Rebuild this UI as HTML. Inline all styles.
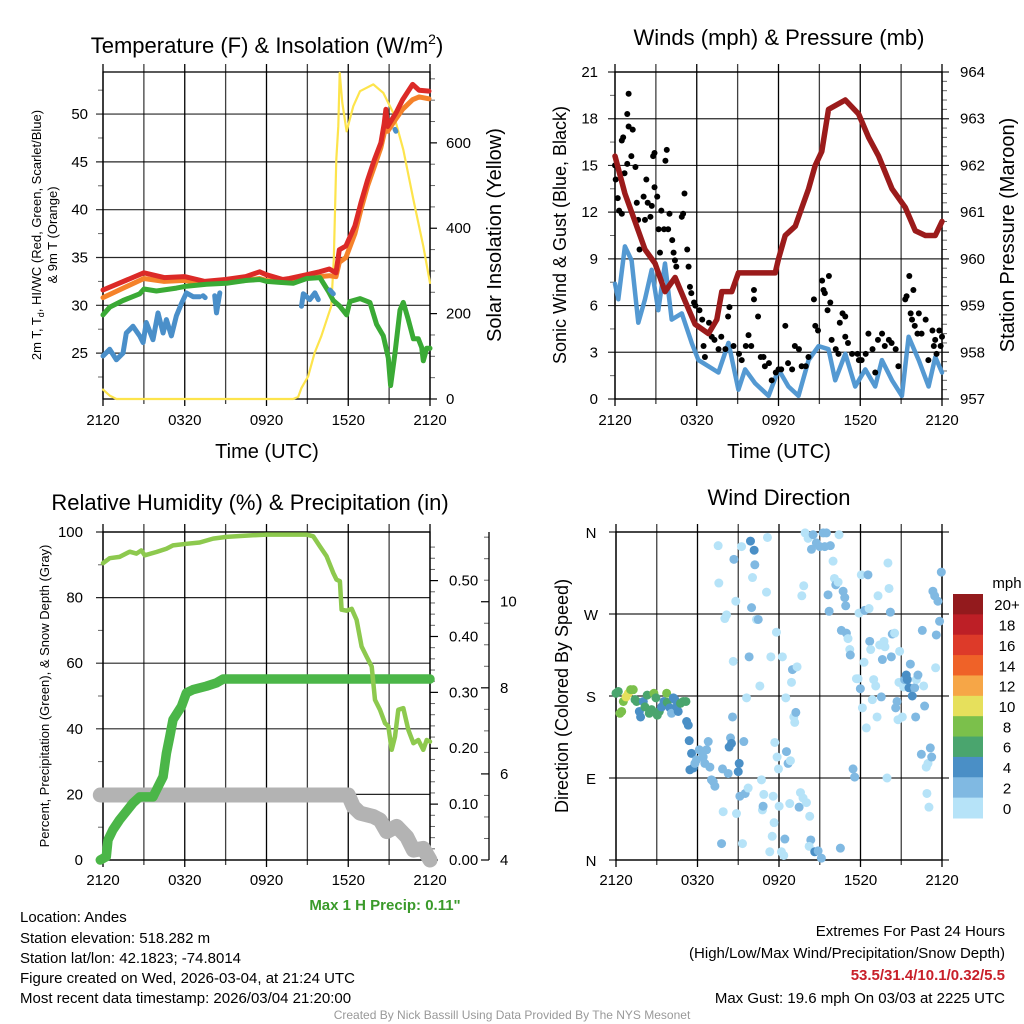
<!DOCTYPE html>
<html><head><meta charset="utf-8"><style>
body{margin:0;background:#fff;}
svg{display:block;font-family:"Liberation Sans",sans-serif;}
</style></head><body>
<svg id="s" width="1024" height="1024" viewBox="0 0 1024 1024" xmlns="http://www.w3.org/2000/svg">
<rect width="1024" height="1024" fill="#fff"/>
<text x="267" y="53" font-size="22" text-anchor="middle">Temperature (F) &amp; Insolation (W/m<tspan font-size="14" dy="-9">2</tspan><tspan dy="9">)</tspan></text>
<text x="779" y="45" font-size="22" text-anchor="middle">Winds (mph) &amp; Pressure (mb)</text>
<text x="250" y="510" font-size="22" text-anchor="middle">Relative Humidity (%) &amp; Precipitation (in)</text>
<text x="779" y="505" font-size="22" text-anchor="middle">Wind Direction</text>
<text x="267" y="458" font-size="20" text-anchor="middle">Time (UTC)</text>
<text x="779" y="458" font-size="20" text-anchor="middle">Time (UTC)</text>
<text transform="translate(41,235) rotate(-90)" font-size="13" text-anchor="middle">2m T, T<tspan font-size="9" dy="3">d</tspan><tspan dy="-3">, HI/WC (Red, Green, Scarlet/Blue)</tspan></text>
<text transform="translate(57,235) rotate(-90)" font-size="13" text-anchor="middle">&amp; 9m T (Orange)</text>
<text transform="translate(501,235) rotate(-90)" font-size="20" text-anchor="middle">Solar Insolation (Yellow)</text>
<text transform="translate(566,235) rotate(-90)" font-size="18" text-anchor="middle">Sonic Wind &amp; Gust (Blue, Black)</text>
<text transform="translate(1014,235) rotate(-90)" font-size="20" text-anchor="middle">Station Pressure (Maroon)</text>
<text transform="translate(49,696) rotate(-90)" font-size="13" text-anchor="middle">Percent, Precipitation (Green), &amp; Snow Depth (Gray)</text>
<text transform="translate(568,696) rotate(-90)" font-size="18" text-anchor="middle">Direction (Colored By Speed)</text>
<text x="385" y="910" font-size="15" font-weight="bold" fill="#3a9a2a" text-anchor="middle">Max 1 H Precip: 0.11"</text>
<g font-size="15">
<text x="20" y="922">Location: Andes</text>
<text x="20" y="943">Station elevation: 518.282 m</text>
<text x="20" y="963">Station lat/lon: 42.1823; -74.8014</text>
<text x="20" y="983">Figure created on Wed, 2026-03-04, at 21:24 UTC</text>
<text x="20" y="1003">Most recent data timestamp: 2026/03/04 21:20:00</text>
</g>
<g font-size="15" text-anchor="end">
<text x="1005" y="936">Extremes For Past 24 Hours</text>
<text x="1005" y="958">(High/Low/Max Wind/Precipitation/Snow Depth)</text>
<text x="1005" y="980" font-weight="bold" fill="#c8202a">53.5/31.4/10.1/0.32/5.5</text>
<text x="1005" y="1003">Max Gust: 19.6 mph On 03/03 at 2225 UTC</text>
</g>
<text x="512" y="1019" font-size="12" fill="#999" text-anchor="middle">Created By Nick Bassill Using Data Provided By The NYS Mesonet</text>
<g id="g"></g>
</svg>
<script>
// ---------- data ----------
const xTickLabels=["2120","0320","0920","1520","2120"];
const tempT=[0,3,4.49,5.98,7.47,8.99,10.48,11.49,11.98,13.2,13.69,14.96,15.89,16.61,17.1,17.34,17.83,18.49,18.93,19.42,19.91,20.4,20.64,20.76,20.89,21.5,21.99,22.72,23.2,23.93];
const tempRed=[31.6,33.4,32.9,33.0,32.5,32.7,33.0,33.5,33.2,32.7,32.8,33.2,33.5,33.8,33.4,35.8,36.2,38.3,40.7,43.1,45.2,47,49,50.5,48.7,50.1,51.5,53.1,52.5,52.4];
const tempOrange=[30.8,32.8,32.5,32.6,32.3,32.4,32.6,32.8,32.6,32.4,32.5,33.0,33.0,33.1,33.0,34.5,35.0,37.5,40.0,42.5,44.5,46.5,48.0,48.5,48.2,49.5,50.5,51.5,51.8,51.6];
const dewT=[0,0.49,1.47,2.69,3.01,3.92,5.39,6.12,7.59,9.06,10.53,11.51,12,12.98,13.96,14.94,15.92,16.53,16.9,17.39,17.88,18.12,18.86,19.59,20.08,20.57,20.94,21.11,21.43,21.8,22.04,22.41,22.78,23.14,23.39,23.51,23.76,24];
const dewV=[29.0,29.8,30.5,31.2,31.7,31.5,31.8,32.0,32.2,32.3,32.6,32.7,32.5,32.4,32.3,32.8,32.9,31.5,30.5,29.9,29.0,30.4,30.7,30.3,28.0,26.8,24.5,21.6,25,29.5,30.3,28.5,26.5,26.5,25.6,24.2,25.5,25.5];
const wcT=[0,0.49,0.98,1.47,1.71,2.2,2.69,2.94,3.18,3.67,4.04,4.41,4.65,5.02,5.39,5.76,6.12,6.61,7.1,null,7.35,7.5,null,8.2,8.33,8.57,null,14.57,14.7,15.18,15.55,15.8,null,16.65,16.9,null,21.43,21.5];
const wcV=[24.7,25.4,24.3,25.0,27.1,27.8,26.8,26.1,28.2,26.4,29.2,27.1,28.5,26.8,28.9,30.2,31.3,30.9,30.9,null,31.0,30.8,null,31.0,29.2,31.3,null,29.9,31.2,30.6,31.3,30.6,null,31.6,31.2,null,48.4,48.2];
const solT=[0,0.49,0.98,13.96,14.33,14.57,15.05,15.53,16.02,16.51,16.75,16.94,17.12,17.27,17.37,17.56,17.88,18.37,18.86,19.84,20.57,21.31,22.04,22.78,23.51,24];
const solV=[22,8,0,0,5,26,53,108,147,194,217,327,561,639,764,694,627,686,721,737,717,670,584,467,358,272];
const presT=[0,0.73,1.47,2.2,2.94,3.67,4.41,5.14,5.88,6.86,7.47,7.84,8.57,9.06,10.04,11.02,11.76,12,12.49,13.23,13.72,14.21,14.69,15.18,15.67,16.9,17.88,18.61,19.35,20.33,21.31,22.04,22.78,23.51,24];
const presV=[962.2,961.4,960.8,960.2,959.9,959.3,959.6,959.1,958.6,958.4,958.7,959.3,959.3,959.7,959.7,959.7,959.7,960.0,960.5,960.7,961.1,961.5,962.0,962.3,963.2,963.4,963.1,962.6,962.2,961.5,961.1,960.6,960.5,960.5,960.8];
const windT=[0,0.24,0.73,1.22,1.71,2.2,2.69,3.18,3.67,4.16,4.9,5.63,6.12,6.86,7.59,8.33,9.06,9.55,10.29,11.27,12,12.73,13.47,14.21,14.94,15.67,16.16,16.9,17.63,18.37,19.1,19.59,20.33,21.06,21.55,22.29,23.02,23.51,24];
const windV=[7.4,6.4,9.8,8.9,4.9,6.4,8.3,5.7,8.7,5.1,5.5,3.6,2.5,2.1,1.7,3.6,0.6,1.9,1.0,0.2,1.9,0.8,0.2,2.5,3.4,3.2,1.2,2.9,0.8,1.9,0.8,2.5,1.2,0.2,4.0,2.5,0.8,2.7,1.7];
const gustT=[0,0.05,0.2,0.3,0.5,0.5,0.6,0.7,0.9,1.0,1.0,1.3,1.2,0.9,1.5,1.6,1.7,1.8,2.1,2.2,2.3,2.4,2.6,2.7,2.8,2.9,2.9,3.1,3.2,3.3,3.4,3.6,3.7,3.8,3.9,4.0,4.2,4.3,4.4,4.5,4.9,5.0,5.1,5.3,5.4,5.5,5.6,5.8,5.9,6.2,6.4,6.5,6.6,6.9,7.1,7.3,7.6,7.8,8.1,8.3,8.4,8.7,9.1,9.3,9.6,9.8,10.0,10.2,10.2,10.5,10.7,10.9,11.0,11.3,11.5,11.8,12.0,12.2,12.5,12.7,13.0,13.2,13.5,13.7,14.0,14.2,14.6,14.7,14.9,15.2,15.3,15.4,15.6,15.7,15.8,15.9,16.2,16.4,16.5,16.7,16.9,16.9,17.1,17.4,17.8,17.9,18.1,18.4,18.6,18.9,19.1,19.3,19.6,19.8,20.1,20.3,20.6,20.8,21.3,21.4,21.6,21.7,21.8,21.9,22.0,22.2,22.3,22.5,22.8,23.0,23.3,23.4,23.5,23.6,23.8,23.9,24.0];
const gustV=[15.0,14.1,12.9,12.1,11.9,16.6,16.8,14.5,18.3,19.6,17.5,17.3,15.6,15.1,14.9,12.6,11.5,9.6,13.0,11.5,14.1,12.6,11.7,12.4,15.6,15.8,13.6,13.0,10.9,9.4,12.1,10.9,15.3,16.0,10.9,11.9,10.2,9.4,8.9,8.5,11.7,11.9,13.2,9.6,8.5,7.2,6.8,6.2,6.0,5.7,5.1,3.4,2.7,4.9,4.0,3.8,3.2,4.0,3.2,5.3,5.9,3.4,2.9,2.5,3.4,4.1,3.4,7.0,6.4,5.3,2.7,2.7,2.1,2.3,1.2,1.7,1.9,1.9,4.7,2.3,1.9,3.4,3.2,2.1,2.1,2.7,6.4,4.7,4.4,7.6,7.0,6.8,5.7,7.9,6.2,3.8,3.2,2.9,4.9,5.5,5.3,4.0,3.6,2.9,2.9,2.5,2.5,2.9,4.2,3.2,1.7,3.8,4.2,3.4,3.8,3.6,3.2,2.1,6.4,6.6,7.9,5.5,5.1,7.0,4.7,4.2,5.5,4.2,5.1,2.5,4.4,3.4,3.8,2.9,4.4,3.4,4.0];
const rhT=[0,0.49,1.22,1.96,2.45,2.82,3.06,3.92,4.65,5.14,6.12,7.1,8.08,9.06,10.53,12,13.47,14.94,15.43,15.92,16.41,16.9,17.14,17.39,17.51,17.88,18.25,18.61,18.98,19.35,19.72,19.96,20.33,20.7,20.94,21.19,21.43,21.67,22.04,22.41,22.78,23.14,23.51,23.76,24];
const rhV=[90.5,92,92.4,94,93.4,94.4,92.9,93.9,94.9,95.9,96.4,96.8,98,98.5,98.9,99.2,99.2,99.2,98.7,95.6,92.6,87.5,85.5,85,76.3,76,76.6,73.2,65.1,62,59,48.8,45.8,41.7,40.8,33.6,37.6,45.8,46.3,39.7,35.6,36.6,33.6,36.6,36.1];
const precipT=[-0.2,0.24,0.37,0.73,1.22,1.71,2.2,2.69,3.67,4.04,4.41,4.65,4.9,5.14,5.76,6.12,6.61,7.59,8.33,8.82,24];
const precipV=[0,0.006,0.036,0.054,0.072,0.087,0.102,0.113,0.113,0.131,0.149,0.191,0.221,0.251,0.275,0.299,0.305,0.311,0.317,0.324,0.324];
const snowT=[-0.2,18,18.37,18.86,19.84,20.33,20.82,21.55,22.29,22.78,23.51,24];
const snowV=[5.51,5.51,5.24,5.09,5.01,4.93,4.66,4.78,4.54,4.23,4.27,4.0];
const dirT=[0,0.17,0.29,0.42,0.54,0.74,0.91,1.08,1.27,1.4,1.52,1.72,1.81,2.01,2.13,2.3,2.45,2.62,2.79,2.94,3.04,3.19,3.36,3.53,3.73,3.77,3.97,4.09,4.22,4.34,4.46,4.58,4.75,4.95,5.15,
5.2,5.32,5.39,5.56,5.69,5.44,5.81,5.93,6.13,6.3,6.42,6.54,6.67,6.79,6.91,7.03,7.16,7.28,7.52,7.57,7.77,7.89,7.84,8.01,8.14,8.26,8.33,8.43,8.5,8.63,8.68,8.58,8.82,8.87,9.0,9.07,9.12,9.24,9.31,9.41,9.51,9.61,9.73,9.8,9.9,10.05,9.98,10.17,10.22,10.34,10.47,10.59,10.71,10.78,10.83,10.88,11.08,11.15,11.32,11.4,11.5,11.57,11.64,11.69,11.81,11.86,11.96,12.01,12.18,12.25,12.35,12.43,12.5,12.55,12.67,12.79,12.84,12.92,12.99,13.09,13.16,13.24,13.33,13.48,13.58,13.68,13.77,13.82,13.92,14.02,14.14,14.26,14.34,14.22,14.39,14.51,14.63,14.75,14.88,15.0,15.12,15.25,15.37,15.49,15.61,15.69,15.78,15.98,16.08,16.18,16.35,16.42,16.52,16.59,16.72,16.84,16.91,16.96,17.08,17.21,17.25,17.45,17.57,17.7,17.82,17.89,17.99,18.06,18.14,18.26,18.31,18.43,18.55,18.63,18.68,18.75,18.87,18.97,19.12,19.22,19.29,19.41,19.53,19.61,19.73,19.8,19.95,20.02,20.1,20.2,20.27,20.34,20.51,20.59,20.69,20.76,20.83,20.88,21.08,21.18,21.25,21.37,21.45,21.57,21.67,21.81,21.99,22.11,22.23,22.06,22.55,22.65,22.72,22.48,22.84,22.97,22.89,23.04,23.14,23.24,23.33,23.46,23.53,23.58,23.7,23.82,23.95];
const dirDeg=[183,185,161,163,174,179,183,187,187,176,174,163,157,174,168,181,161,165,183,178,159,163,168,174,183,173,167,161,178,176,168,163,172,174,174,
152,148,131,117,101,99,106,110,121,119,113,106,121,130,102,88,86,81,345,304,18,53,100,265,269,95,124,134,128,218,330,157,284,51,97,106,70,344,18,130,73,178,79,223,350,310,277,340,324,264,264,191,88,55,59,72,294,354,9,223,26,70,41,129,250,113,100,59,9,223,5,23,178,119,106,62,109,195,209,157,151,162,212,58,74,290,68,301,359,63,353,48,22,15,341,357,9,348,10,344,2,359,344,359,291,273,345,328,309,302,305,357,13,252,295,288,279,249,243,231,225,100,91,199,199,271,188,313,167,217,274,145,313,276,240,231,176,198,191,157,290,236,179,220,240,234,90,326,298,272,223,248,249,167,174,154,195,229,157,190,198,203,198,189,215,180,189,198,203,157,252,191,169,116,102,106,73,58,123,113,295,290,211,247,284,262,316];
const dirSpd=[6,7,8,9,8,10,11,9,8,6,6,4.5,4.5,4.5,6,7,6,6,8,7,6,7,5,4.5,8,7,4.5,3.2,4.5,4.5,4.5,4.5,6,6,6,
4.5,4.5,4.5,4.5,4.5,4.5,3.2,3.2,2.8,2.8,2.8,2.8,3.2,3.2,2.8,2.8,2.8,2.8,1,1,2.8,1,3.2,1,1,2.8,4.5,3.2,4.5,1,3.2,3.2,1,1,4.5,4.5,3.2,1,1,3.2,2.8,1,1,3.2,4.5,1,3.2,4.5,3.2,1,3.2,1,1,1,3.2,1,1,1,1,1,1,1,1,1,1,1,1,1,1,1,1,2.8,1,3.2,3.2,1,1,1,3.2,1,1,3.2,1,3.2,1,1,1,1,1,1,1,1,2.8,1,3.2,3.2,4.5,3.2,3.2,3.2,3.2,3.2,3.2,3.2,3.2,3.2,3.2,1,1,3.2,1,1,2.8,3.2,3.2,3.2,3.2,3.2,1,1,3.2,3.2,3.2,1,1,1,3.2,1,1,1,3.2,1,3.2,1,3.2,1,1,1,1,1,1,1,3.2,3.2,1,1,1,1,1,3.2,3.2,3.2,1,3.2,3.2,1,1,1,1,1,2.8,4.5,4.5,4.5,3.2,4.5,3.2,1,3.2,3.2,3.2,1,3.2,3.2,1,1,1,1,3.2,3.2,3.2,3.2,1,3.2,3.2,3.2,3.2];
const cbLabels=["20+","18","16","14","12","10","8","6","4","2","0"];
const cbColors=["#931a1d","#bd1f26","#dd3a29","#ef6228","#f6a647","#e6e05c","#7bc04b","#4aa56e","#4a8fc6","#80b9e2","#b6e3f8"];

// ---------- helpers ----------
const NS="http://www.w3.org/2000/svg";
const G=document.getElementById('g');
function mk(tag,at,parent){const e=document.createElementNS(NS,tag);for(const k in at)e.setAttribute(k,at[k]);(parent||G).appendChild(e);return e;}
function lin(d0,d1,r0,r1){return v=>r0+(v-d0)/(d1-d0)*(r1-r0);}
function path(xs,ys,sx,sy){let d="",pen=false;for(let i=0;i<xs.length;i++){if(xs[i]===null||ys[i]===null){pen=false;continue;}d+=(pen?"L":"M")+sx(xs[i]).toFixed(1)+","+sy(ys[i]).toFixed(1);pen=true;}return d;}

function frame(x0,x1,y0,y1,name,hy,xlabY,extendTop){
  const sx=lin(0,24,x0,x1);
  for(let i=0;i<=8;i++){
    const x=sx(i*3);
    const l=mk('line',{x1:x,x2:x,y1:y0-(extendTop||7),y2:y1+(i%2==0?7:5),stroke:'#000','stroke-width':1.3,'stroke-opacity':i%2==0?1:0.75});
    
    
  }
  for(let i=0;i<5;i++){
    const t=mk('text',{x:sx(i*6),y:xlabY,'font-size':15,'text-anchor':'middle'});
    t.textContent=xTickLabels[i];
    
    
  }
  hy.forEach(y=>{
    const l=mk('line',{x1:x0-7,x2:x1+7,y1:y,y2:y,stroke:'#000','stroke-width':1.2,'stroke-opacity':0.85});
    
    
  });
  const b=mk('rect',{x:x0,y:y0,width:x1-x0,height:y1-y0,fill:'none',stroke:'#000','stroke-width':1.3});
  
  
  return sx;
}
function yLabels(vals,sy,x,anchor,name,fmt){
  vals.forEach(v=>{const t=mk('text',{x:x,y:sy(v)+5,'font-size':15,'text-anchor':anchor});t.textContent=fmt?fmt(v):v;
  
  });
}
function minor(x,vals,sy,dir,name){vals.forEach(v=>{const l=mk('line',{x1:x,x2:x+dir,y1:sy(v),y2:sy(v),stroke:'#000','stroke-width':1,'stroke-opacity':0.6});

});}
function line(xs,ys,sx,sy,color,w,name,op){const p=mk('path',{d:path(xs,ys,sx,sy),fill:'none',stroke:color,'stroke-width':w,'stroke-linejoin':'round','stroke-linecap':'round','stroke-opacity':op||1});

return p;}

// ---------- Panel 1 ----------
(function(){
  const x0=103,x1=430,y0=72,y1=399;
  const syL=lin(20.2,54.4,y1,y0), syR=lin(0,766,y1,y0);
  const sx=frame(x0,x1,y0,y1,'temp',[],425,8);
  [25,30,35,40,45,50].forEach(v=>{const l=mk('line',{x1:x0-7,x2:x1,y1:syL(v),y2:syL(v),stroke:'#000','stroke-width':1.2,'stroke-opacity':0.85});
  
  });
  minor(x0,[22.5,27.5,32.5,37.5,42.5,47.5,52.5],syL,-5,'temp-left-minor-tick');
  yLabels([25,30,35,40,45,50],syL,88,'end','temp-y-tick-label');
  [0,200,400,600].forEach(v=>{const l=mk('line',{x1:x1,x2:x1+7,y1:syR(v),y2:syR(v),stroke:'#000','stroke-width':1.2});
  
  });
  minor(x1,[50,100,150,250,300,350,450,500,550,650,700,750],syR,5,'insolation-minor-tick');
  yLabels([0,200,400,600],syR,446,'start','insolation-tick-label');
  line(solT,solV,sx,syR,'#fde44c',2.2,'insolation-line');
  line(tempT,tempOrange,sx,syL,'#f5822a',5,'9m-temp-line');
  line(tempT,tempRed,sx,syL,'#dc2a27',5,'2m-temp-line');
  line(dewT,dewV,sx,syL,'#3aaa35',5,'dewpoint-line');
  line(wcT,wcV,sx,syL,'#4a8fc9',5,'windchill-line');
})();

// ---------- Panel 2 ----------
(function(){
  const x0=615,x1=942,y0=72,y1=399;
  const syL=lin(0,21,y1,y0), syR=lin(957,964,y1,y0);
  const ticks=[0,3,6,9,12,15,18,21];
  const sx=frame(x0,x1,y0,y1,'wind',ticks.map(syL),425,8);
  minor(x0,[1.5,4.5,7.5,10.5,13.5,16.5,19.5],syL,-5,'wind-left-minor-tick');
  yLabels(ticks,syL,598,'end','wind-y-tick-label');
  yLabels([957,958,959,960,961,962,963,964],syR,960,'start','pressure-tick-label');
  minor(x1,[957.2,957.4,957.6,957.8,958.2,958.4,958.6,958.8,959.2,959.4,959.6,959.8,960.2,960.4,960.6,960.8,961.2,961.4,961.6,961.8,962.2,962.4,962.6,962.8,963.2,963.4,963.6,963.8],syR,5,'pressure-minor-tick');
  line(windT,windV,sx,syL,'#4b93d0',4.5,'sonic-wind-line',0.95);
  gustT.forEach((t,i)=>{const c=mk('circle',{cx:sx(t),cy:syL(gustV[i]),r:3,fill:'#000'});
  
  });
  line(presT,presV,sx,syR,'#9b1b1b',5.5,'pressure-line');
})();

// ---------- Panel 3 ----------
(function(){
  const x0=103,x1=430,y0=532,y1=860;
  const syL=lin(0,100,y1,y0), syP=lin(0,0.587,y1,y0), syS=lin(4,11.62,y1,y0);
  const sx=frame(x0,x1,y0,y1,'humidity',[],885,8);
  [20,40,60,80,100,0].forEach(v=>{const l=mk('line',{x1:x0-7,x2:x1,y1:syL(v),y2:syL(v),stroke:'#000','stroke-width':1.2,'stroke-opacity':0.85});
  
  });
  minor(x0,[10,30,50,70,90],syL,-5,'humidity-left-minor-tick');
  yLabels([0,20,40,60,80,100],syL,83,'end','humidity-y-tick-label');
  [0,0.1,0.2,0.3,0.4,0.5].forEach(v=>{const l=mk('line',{x1:x1,x2:x1+8,y1:syP(v),y2:syP(v),stroke:'#000','stroke-width':1.2});
  
  });
  minor(x1,[0.02,0.04,0.06,0.08,0.12,0.14,0.16,0.18,0.22,0.24,0.26,0.28,0.32,0.34,0.36,0.38,0.42,0.44,0.46,0.48,0.52,0.54,0.56],syP,5,'precip-minor-tick');
  yLabels([0,0.1,0.2,0.3,0.4,0.5],syP,449,'start','precip-tick-label',v=>v.toFixed(2));
  const ax=mk('line',{x1:489,x2:489,y1:y0,y2:y1,stroke:'#000','stroke-width':1.3});
  
  
  [4,6,8,10].forEach(v=>{const l=mk('line',{x1:481,x2:489,y1:syS(v),y2:syS(v),stroke:'#000','stroke-width':1.2});
  
  });
  minor(489,[4.5,5,5.5,6.5,7,7.5,8.5,9,9.5,10.5,11,11.5],syS,-5,'snow-minor-tick');
  yLabels([4,6,8,10],syS,500,'start','snow-tick-label');
  line(snowT,snowV,sx,syS,'#b3b3b3',15,'snow-depth-line');
  line(precipT,precipV,sx,syP,'#4bb648',9.5,'precip-line');
  line(rhT,rhV,sx,syL,'#8dc94e',4.5,'humidity-line');
})();

// ---------- Panel 4 ----------
(function(){
  const x0=616,x1=942,y0=532,y1=860;
  const sy=lin(0,360,y1,y0);
  const sx=frame(x0,x1,y0,y1,'direction',[0,90,180,270,360].map(sy),885,8);
  ["N","E","S","W","N"].forEach((s,i)=>{const t=mk('text',{x:591,y:sy(i*90)+6,'font-size':15,'text-anchor':'middle'});t.textContent=s;
  
  });
  function col(s){const idx=Math.min(10,Math.floor(s/2));return cbColors[10-idx];}
  dirT.forEach((t,i)=>{const c=mk('circle',{cx:sx(t),cy:sy(dirDeg[i]),r:4.5,fill:col(dirSpd[i])});
  
  });
  const cy0=594,bh=(818-594)/11;
  const m=mk('text',{x:1007,y:588,'font-size':15,'text-anchor':'middle'});m.textContent="mph";
  
  
  cbColors.forEach((c,i)=>{const r=mk('rect',{x:953,y:cy0+i*bh,width:30,height:bh+0.5,fill:c});
  
  
  const t=mk('text',{x:1007,y:cy0+i*bh+bh/2+6,'font-size':15,'text-anchor':'middle'});t.textContent=cbLabels[i];
  
  });
})();
</script>
</body></html>
